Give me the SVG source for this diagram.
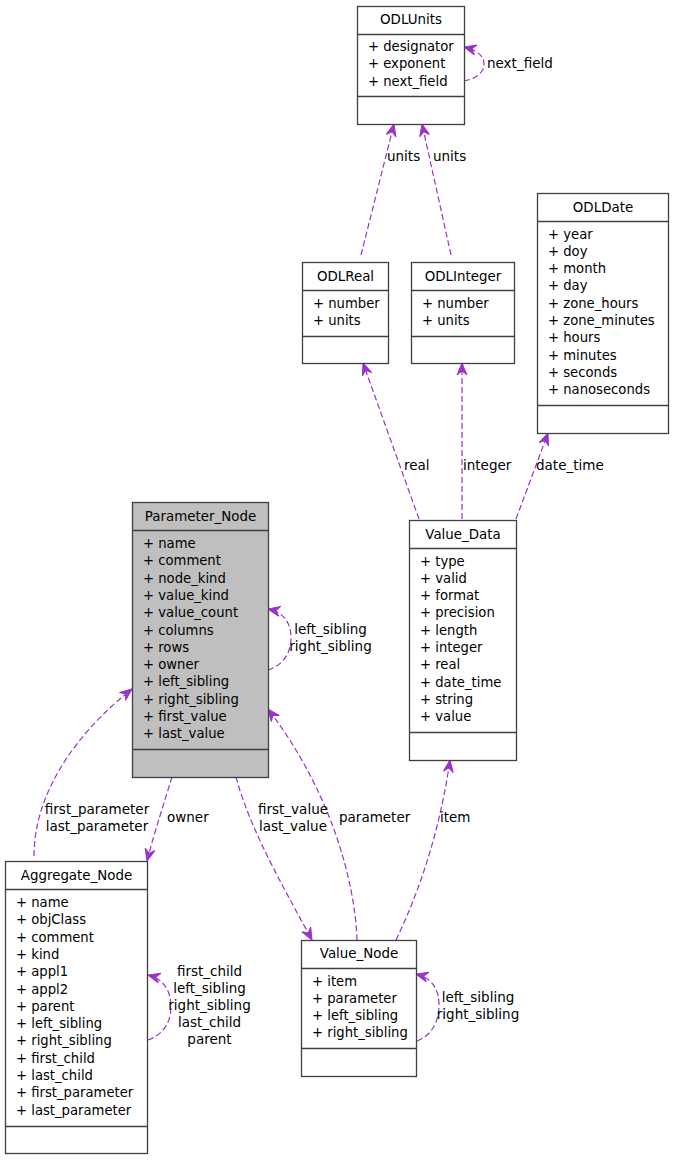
<svg xmlns="http://www.w3.org/2000/svg" width="673" height="1160" viewBox="0 0 673 1160">
<style>
.box{fill:#ffffff;stroke:#404040;stroke-width:1.3}
.grey{fill:#bfbfbf}
.sep{stroke:#404040;stroke-width:1.3}
.t{font-family:"DejaVu Sans",sans-serif;font-size:13.4px;fill:#000;text-anchor:middle}
.a{font-family:"DejaVu Sans",sans-serif;font-size:13.2px;fill:#000}
.l{font-family:"DejaVu Sans",sans-serif;font-size:13.5px;fill:#000}
.m{text-anchor:middle}
.e{fill:none;stroke:#9a32cd;stroke-width:1.2;stroke-dasharray:6,3;marker-end:url(#vee)}
</style>
<defs>
<marker id="vee" markerUnits="userSpaceOnUse" orient="auto" refX="0" refY="0" markerWidth="20" markerHeight="20" overflow="visible">
<path d="M0,0 L-12,-5 L-8,0 L-12,5 Z" fill="#9a32cd" stroke="#9a32cd" stroke-width="1"/>
</marker>
</defs>
<rect width="673" height="1160" fill="#ffffff"/>
<g id="connectors">
<path class="e" d="M464,81 C474,79 484,74 484,64 C484,55 476,50 464,47"/>
<path class="e" d="M361,255 L394,124"/>
<path class="e" d="M451,255 L422,124"/>
<path class="e" d="M419,519 L363,363"/>
<path class="e" d="M462,519 L462,363"/>
<path class="e" d="M516,519 L548,433"/>
<path class="e" d="M268,670 C281,666 291,655 291,638 C291,622 283,612 268,609"/>
<path class="e" d="M34,856 C34,790 80,730 132,689"/>
<path class="e" d="M172,777 C165,800 155,830 147,861"/>
<path class="e" d="M236,777 C250,830 285,890 312,940"/>
<path class="e" d="M357,940 C355,880 330,790 268,709"/>
<path class="e" d="M396,940 C420,890 440,830 450,760"/>
<path class="e" d="M148,1040 C160,1036 171,1025 171,1007 C171,990 163,979 148,975"/>
<path class="e" d="M417,1041 C430,1036 439,1024 439,1005 C439,988 431,978 416,974"/>
<text class="l" x="487" y="68">next_field</text>
<text class="l" x="387" y="161">units</text>
<text class="l" x="433" y="161">units</text>
<text class="l" x="404" y="470">real</text>
<text class="l" x="463" y="470">integer</text>
<text class="l" x="536" y="470">date_time</text>
<text class="l m" x="330.5" y="634">left_sibling</text>
<text class="l m" x="330.5" y="651">right_sibling</text>
<text class="l m" x="97" y="814">first_parameter</text>
<text class="l m" x="97" y="831">last_parameter</text>
<text class="l" x="167" y="822">owner</text>
<text class="l m" x="293" y="814">first_value</text>
<text class="l m" x="293" y="831">last_value</text>
<text class="l" x="339" y="822">parameter</text>
<text class="l" x="440" y="822">item</text>
<text class="l m" x="209.5" y="976">first_child</text>
<text class="l m" x="209.5" y="993">left_sibling</text>
<text class="l m" x="209.5" y="1010">right_sibling</text>
<text class="l m" x="209.5" y="1027">last_child</text>
<text class="l m" x="209.5" y="1044">parent</text>
<text class="l m" x="478" y="1002">left_sibling</text>
<text class="l m" x="478" y="1019">right_sibling</text>
</g>
<g id="ODLUnits">
<rect class="box" x="357.5" y="6.5" width="107" height="118"/>
<line class="sep" x1="357.5" y1="34.5" x2="464.5" y2="34.5"/>
<line class="sep" x1="357.5" y1="96.5" x2="464.5" y2="96.5"/>
<text class="t" x="411" y="24">ODLUnits</text>
<text class="a" x="368" y="51">+ designator</text>
<text class="a" x="368" y="68.3">+ exponent</text>
<text class="a" x="368" y="85.6">+ next_field</text>
</g>
<g id="ODLReal">
<rect class="box" x="302.5" y="262.5" width="86" height="101"/>
<line class="sep" x1="302.5" y1="290.5" x2="388.5" y2="290.5"/>
<line class="sep" x1="302.5" y1="336.5" x2="388.5" y2="336.5"/>
<text class="t" x="345.5" y="281">ODLReal</text>
<text class="a" x="313" y="308">+ number</text>
<text class="a" x="313" y="325.3">+ units</text>
</g>
<g id="ODLInteger">
<rect class="box" x="411.5" y="262.5" width="103" height="101"/>
<line class="sep" x1="411.5" y1="290.5" x2="514.5" y2="290.5"/>
<line class="sep" x1="411.5" y1="336.5" x2="514.5" y2="336.5"/>
<text class="t" x="463" y="281">ODLInteger</text>
<text class="a" x="422" y="308">+ number</text>
<text class="a" x="422" y="325.3">+ units</text>
</g>
<g id="ODLDate">
<rect class="box" x="537.5" y="193.5" width="131" height="240"/>
<line class="sep" x1="537.5" y1="221.5" x2="668.5" y2="221.5"/>
<line class="sep" x1="537.5" y1="405.5" x2="668.5" y2="405.5"/>
<text class="t" x="603" y="211.5">ODLDate</text>
<text class="a" x="548" y="238.5">+ year</text>
<text class="a" x="548" y="255.8">+ doy</text>
<text class="a" x="548" y="273.1">+ month</text>
<text class="a" x="548" y="290.4">+ day</text>
<text class="a" x="548" y="307.7">+ zone_hours</text>
<text class="a" x="548" y="325">+ zone_minutes</text>
<text class="a" x="548" y="342.3">+ hours</text>
<text class="a" x="548" y="359.6">+ minutes</text>
<text class="a" x="548" y="376.9">+ seconds</text>
<text class="a" x="548" y="394.2">+ nanoseconds</text>
</g>
<g id="Parameter_Node">
<rect class="box grey" x="132.5" y="502.5" width="136" height="275"/>
<line class="sep" x1="132.5" y1="530.5" x2="268.5" y2="530.5"/>
<line class="sep" x1="132.5" y1="749.5" x2="268.5" y2="749.5"/>
<text class="t" x="200.5" y="521">Parameter_Node</text>
<text class="a" x="143" y="548">+ name</text>
<text class="a" x="143" y="565.3">+ comment</text>
<text class="a" x="143" y="582.6">+ node_kind</text>
<text class="a" x="143" y="599.9">+ value_kind</text>
<text class="a" x="143" y="617.2">+ value_count</text>
<text class="a" x="143" y="634.5">+ columns</text>
<text class="a" x="143" y="651.8">+ rows</text>
<text class="a" x="143" y="669.1">+ owner</text>
<text class="a" x="143" y="686.4">+ left_sibling</text>
<text class="a" x="143" y="703.7">+ right_sibling</text>
<text class="a" x="143" y="721">+ first_value</text>
<text class="a" x="143" y="738.3">+ last_value</text>
</g>
<g id="Value_Data">
<rect class="box" x="409.5" y="520.5" width="107" height="240"/>
<line class="sep" x1="409.5" y1="548.5" x2="516.5" y2="548.5"/>
<line class="sep" x1="409.5" y1="732.5" x2="516.5" y2="732.5"/>
<text class="t" x="463" y="539">Value_Data</text>
<text class="a" x="420" y="565.5">+ type</text>
<text class="a" x="420" y="582.8">+ valid</text>
<text class="a" x="420" y="600.1">+ format</text>
<text class="a" x="420" y="617.4">+ precision</text>
<text class="a" x="420" y="634.7">+ length</text>
<text class="a" x="420" y="652">+ integer</text>
<text class="a" x="420" y="669.3">+ real</text>
<text class="a" x="420" y="686.6">+ date_time</text>
<text class="a" x="420" y="703.9">+ string</text>
<text class="a" x="420" y="721.2">+ value</text>
</g>
<g id="Aggregate_Node">
<rect class="box" x="5.5" y="861.5" width="142" height="292"/>
<line class="sep" x1="5.5" y1="889.5" x2="147.5" y2="889.5"/>
<line class="sep" x1="5.5" y1="1126.5" x2="147.5" y2="1126.5"/>
<text class="t" x="76.5" y="879.5">Aggregate_Node</text>
<text class="a" x="16" y="907">+ name</text>
<text class="a" x="16" y="924.3">+ objClass</text>
<text class="a" x="16" y="941.6">+ comment</text>
<text class="a" x="16" y="958.9">+ kind</text>
<text class="a" x="16" y="976.2">+ appl1</text>
<text class="a" x="16" y="993.5">+ appl2</text>
<text class="a" x="16" y="1010.8">+ parent</text>
<text class="a" x="16" y="1028.1">+ left_sibling</text>
<text class="a" x="16" y="1045.4">+ right_sibling</text>
<text class="a" x="16" y="1062.7">+ first_child</text>
<text class="a" x="16" y="1080">+ last_child</text>
<text class="a" x="16" y="1097.3">+ first_parameter</text>
<text class="a" x="16" y="1114.6">+ last_parameter</text>
</g>
<g id="Value_Node">
<rect class="box" x="301.5" y="940.5" width="115" height="136"/>
<line class="sep" x1="301.5" y1="968.5" x2="416.5" y2="968.5"/>
<line class="sep" x1="301.5" y1="1048.5" x2="416.5" y2="1048.5"/>
<text class="t" x="359" y="958">Value_Node</text>
<text class="a" x="312" y="985.5">+ item</text>
<text class="a" x="312" y="1002.8">+ parameter</text>
<text class="a" x="312" y="1020.1">+ left_sibling</text>
<text class="a" x="312" y="1037.4">+ right_sibling</text>
</g>
</svg>
